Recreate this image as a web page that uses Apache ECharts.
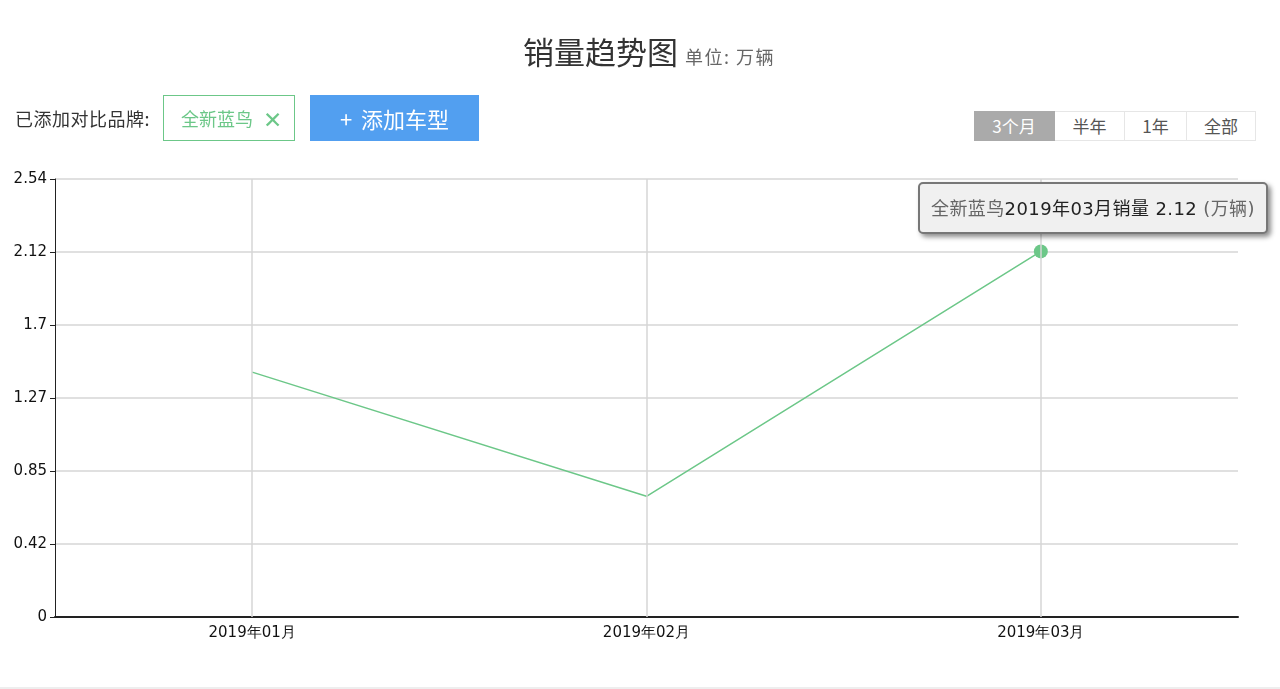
<!DOCTYPE html>
<html>
<head>
<meta charset="utf-8">
<script src="https://cdn.jsdelivr.net/npm/echarts@6/dist/echarts.min.js"></script>
<style>
  html, body { margin: 0; padding: 0; background: #fff; }
  body { width: 1280px; height: 689px; position: relative; overflow: hidden;
    font-family: "Noto Sans CJK SC", "Noto Sans", sans-serif; }
  #chart { position: absolute; left: 0; top: 0; width: 1280px; height: 689px; }
  .title { position: absolute; left: 523px; top: 28px; font-size: 31px; color: #333; white-space: nowrap; }
  .title span { font-size: 18px; color: #666; margin-left: 0px; letter-spacing: 1.5px; }
  .brandLabel { position: absolute; left: 15px; top: 105px; font-size: 18px; color: #333; letter-spacing: 0.5px; }
  .brand { position: absolute; left: 163px; top: 95px; width: 130px; height: 44px; border: 1px solid #6cc788;
    color: #6cc788; font-size: 18px; line-height: 44px; box-sizing: content-box; }
  .brand b { position: absolute; left: 17px; font-weight: normal; }
  .brand i { position: absolute; left: 99px; font-style: normal; font-size: 23px; }
  .addBtn { position: absolute; left: 310px; top: 95px; width: 169px; height: 46px; background: #529ff0;
    color: #fff; font-size: 22px; line-height: 46px; text-align: center; word-spacing: 4px; }
  .range { position: absolute; left: 974px; top: 111px; height: 30px; display: flex; }
  .range div { height: 28px; line-height: 28px; border: 1px solid #e6e6e6; border-left: none;
    font-size: 17px; color: #555; text-align: center; background: #fff; }
  .range div.on { background: #aaa; color: #fff; border-color: #aaa; }
  .bottomLine { position: absolute; left: 0; top: 687px; width: 1280px; height: 2px; background: #eee; }
</style>
</head>
<body>
<div id="chart"></div>
<div class="title">销量趋势图 <span>单位: 万辆</span></div>
<div class="brandLabel">已添加对比品牌:</div>
<div class="brand"><b>全新蓝鸟</b><i>✕</i></div>
<div class="addBtn">+ 添加车型</div>
<div class="range">
  <div class="on" style="width:80px">3个月</div>
  <div style="width:69px">半年</div>
  <div style="width:61px">1年</div>
  <div style="width:68px">全部</div>
</div>
<div class="bottomLine"></div>
<script>
let brand = '全新蓝鸟';
let months = ['2019年01月', '2019年02月', '2019年03月'];
let sales = [1.42, 0.70, 2.12];
let yTickLabels = ['0', '0.42', '0.85', '1.27', '1.7', '2.12', '2.54'];
let yMax = 2.54;
let tipIndex = 2;

let chart = echarts.init(document.getElementById('chart'));

// 数据点：只有悬停的那个月画圆点
let seriesData = sales.map((v, i) => ({
    value: v,
    symbol: i === tipIndex ? 'circle' : 'none'
}));

chart.setOption({
    animation: false,
    grid: { left: 55, right: 42, top: 179, bottom: 72 },
    tooltip: {
        trigger: 'item',
        triggerOn: 'none',
        alwaysShowContent: true,
        backgroundColor: '#f0f0f0',
        borderColor: '#777',
        borderWidth: 2,
        padding: [10, 11],
        extraCssText: 'border-radius:5px;box-shadow:3px 3px 5px rgba(0,0,0,0.45);letter-spacing:0.4px;',
        textStyle: { fontSize: 18, color: '#222', fontFamily: 'DejaVu Sans, Noto Sans CJK SC' },
        position: function () { return [918, 182]; },
        formatter: function (p) {
            return '<span style="color:#666;font-family:Noto Sans CJK SC">' + brand + '</span>' + p.name + '销量 ' +
                p.value.toFixed(2) + ' <span style="color:#666">(万辆)</span>';
        }
    },
    xAxis: {
        type: 'category',
        data: months,
        boundaryGap: true,
        axisLine: { lineStyle: { color: '#222', width: 2 } },
        axisTick: { alignWithLabel: true, length: 5, lineStyle: { color: '#222' } },
        axisLabel: { color: '#111', fontSize: 15, fontFamily: 'DejaVu Sans', margin: 9 },
        splitLine: { show: false }
    },
    yAxis: {
        type: 'value',
        min: 0,
        max: yMax,
        interval: yMax / 6,
        axisLine: { show: true, lineStyle: { color: '#222', width: 1 } },
        axisTick: { show: true, length: 5, lineStyle: { color: '#222' } },
        axisLabel: {
            color: '#111', fontSize: 15, fontFamily: 'DejaVu Sans', margin: 8,
            formatter: function (v) {
                let i = Math.round(v / (yMax / 6));
                return yTickLabels[i];
            }
        },
        splitLine: { lineStyle: { color: '#d6d6d6', width: 1.5 } }
    },
    series: [{
        type: 'line',
        name: brand,
        data: seriesData,
        symbolSize: 14,
        color: '#6cc788',
        lineStyle: { width: 1.5, color: '#6cc788' },
        itemStyle: { color: '#6cc788' },
        emphasis: { disabled: true },
        markLine: {
            silent: true,
            symbol: 'none',
            label: { show: false },
            lineStyle: { color: '#d6d6d6', width: 1.5, type: 'solid' },
            data: months.map(m => ({ xAxis: m }))
        }
    }]
});

chart.dispatchAction({ type: 'showTip', seriesIndex: 0, dataIndex: tipIndex });
</script>
</body>
</html>
